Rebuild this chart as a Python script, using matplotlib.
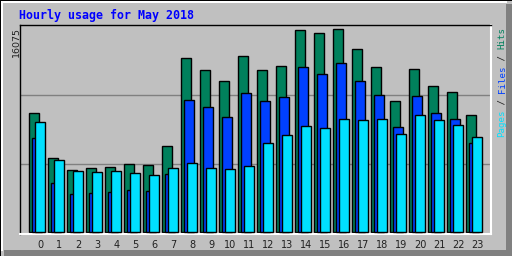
import matplotlib
matplotlib.use("Agg")
import matplotlib.pyplot as plt
from matplotlib.patches import Rectangle
from matplotlib.transforms import Affine2D
import numpy as np

# hourly totals, May 2018
hours = list(range(24))
hits = [9424, 5836, 4886, 5044, 5124, 5361, 5282, 6787, 13755, 12805, 11934, 13914,
        12805, 13122, 16010, 15735, 16075, 14468, 13043, 10350, 12884, 11538, 11063, 9242]
files = [7444, 3880, 3009, 3088, 3168, 3326, 3247, 4593, 10453, 9899, 9107, 11007,
         10374, 10691, 13066, 12512, 13383, 11958, 10849, 8315, 10770, 9424, 8949, 7048]
pages = [8711, 5702, 4831, 4751, 4831, 4672, 4514, 5068, 5464, 5068, 4989, 5227,
         7048, 7681, 8394, 8196, 8948, 8869, 8948, 7761, 9265, 8869, 8473, 7523]
title = "Hourly usage for May 2018"

c_hits = "#00805c"
c_files = "#0040ff"
c_pages = "#00e0ff"
bg = "#c0c0c0"

W, H = 512, 256
fig = plt.figure(figsize=(W / 100, H / 100), dpi=100)
fig.patch.set_facecolor(bg)
# pixel coords, origin top-left
px = Affine2D().scale(1 / W, -1 / H).translate(0, 1) + fig.transFigure

# outer 3d frame
fig.add_artist(Rectangle((506, 4), 6, 252, transform=px, color="#808080", lw=0))
fig.add_artist(Rectangle((4, 250), 508, 6, transform=px, color="#808080", lw=0))
fig.add_artist(Rectangle((1, 1), 2, 250, transform=px, color="white", lw=0))
fig.add_artist(Rectangle((1, 1), 506, 2, transform=px, color="white", lw=0))
fig.add_artist(Rectangle((0, 0), 1, 256, transform=px, color="black", lw=0))
fig.add_artist(Rectangle((0, 0), 512, 1, transform=px, color="black", lw=0))

left, top, right, bottom = 20, 25, 491, 234
ax = fig.add_axes([left / W, 1 - bottom / H, (right - left) / W, (bottom - top) / H])
ax.set_facecolor(bg)

step = 19.0  # px per hour
ymax = max(hits)
unit = ymax / 203.0
ax.set_xlim((left - 29) / step, (right - 29) / step)
ax.set_ylim(-2 * unit, ymax + 4 * unit)

for f in (1 / 3, 2 / 3):
    ax.plot([0, 1], [f, f], transform=ax.transAxes, color="#808080", lw=1, zorder=0)

x = np.array(hours, dtype=float)
bw = 10 / step
kw = dict(width=bw, align="edge", edgecolor="black", linewidth=1)
ax.bar(x, hits, color=c_hits, zorder=2, **kw)
ax.bar(x + 3 / step, files, color=c_files, zorder=3, **kw)
ax.bar(x + 6 / step, pages, color=c_pages, zorder=4, **kw)

ax.set_yticks([])
ax.set_xticks(x + 0.6)
ax.set_xticklabels([str(h) for h in hours], fontsize=7, color="#202020")
ax.tick_params(axis="x", length=0, pad=4)
for s in ("top", "left"):
    ax.spines[s].set_color("black")
    ax.spines[s].set_linewidth(1)
for s in ("bottom", "right"):
    ax.spines[s].set_color("white")
    ax.spines[s].set_linewidth(1.5)

fig.text(19 / W, 1 - 15 / H, title, color="#0000ff", fontsize=8.4,
         fontweight="bold", family="DejaVu Sans Mono", va="center", ha="left")
fig.text(16.5 / W, 1 - 42 / H, str(ymax), rotation=90, fontsize=6.8,
         color="#202020", ha="center", va="center")

# right legend, bottom to top
parts = [("Pages", c_pages), (" / ", "#202020"), ("Files", c_files),
         (" / ", "#202020"), ("Hits", c_hits)]
cw = 5.5
pos = 0
for txt, col in parts:
    fig.text(502 / W, 1 - (137 - pos * cw) / H, txt, rotation=90, fontsize=6.6,
             family="DejaVu Sans Mono", color=col, ha="center", va="bottom")
    pos += len(txt)

fig.savefig("out.png", dpi=100, facecolor=bg)
